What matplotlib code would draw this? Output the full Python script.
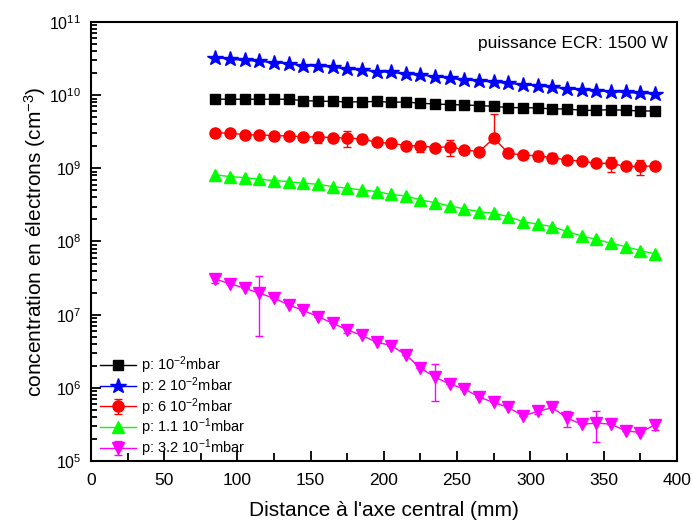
import numpy as np
import matplotlib
matplotlib.use('Agg')
import matplotlib.pyplot as plt
from matplotlib.ticker import MultipleLocator, LogLocator, NullFormatter

# police
matplotlib.rcParams['font.family'] = ['Liberation Sans', 'DejaVu Sans']
matplotlib.rcParams['mathtext.fontset'] = 'custom'
matplotlib.rcParams['mathtext.rm'] = 'Liberation Sans'
matplotlib.rcParams['mathtext.it'] = 'Liberation Sans:italic'
matplotlib.rcParams['axes.unicode_minus'] = False

# données (distance en mm, densité en cm^-3)
distance = list(range(85, 386, 10))

n_1e2 = [8.8e9, 8.8e9, 8.8e9, 8.8e9, 8.8e9, 8.8e9, 8.4e9, 8.3e9, 8.2e9, 8.1e9,
         8.1e9, 8.2e9, 8.0e9, 8.07e9, 7.74e9, 7.58e9, 7.43e9, 7.35e9, 7.2e9, 7.05e9,
         6.76e9, 6.76e9, 6.69e9, 6.48e9, 6.48e9, 6.21e9, 6.21e9, 6.34e9, 6.21e9, 6.08e9,
         6.08e9]

n_2e2 = [3.26e10, 3.09e10, 2.99e10, 2.90e10, 2.78e10, 2.70e10, 2.53e10, 2.48e10, 2.43e10, 2.26e10,
         2.21e10, 2.10e10, 2.05e10, 1.93e10, 1.89e10, 1.79e10, 1.70e10, 1.61e10, 1.56e10, 1.51e10,
         1.45e10, 1.39e10, 1.34e10, 1.28e10, 1.23e10, 1.18e10, 1.14e10, 1.12e10, 1.09e10, 1.06e10,
         1.04e10]

n_6e2 = [3.08e9, 3.01e9, 2.89e9, 2.86e9, 2.80e9, 2.77e9, 2.69e9, 2.69e9, 2.63e9, 2.60e9,
         2.52e9, 2.27e9, 2.20e9, 2.05e9, 2.02e9, 1.92e9, 1.98e9, 1.78e9, 1.69e9, 2.58e9,
         1.61e9, 1.52e9, 1.48e9, 1.40e9, 1.30e9, 1.25e9, 1.17e9, 1.17e9, 1.06e9, 1.06e9,
         1.08e9]
err_6e2_bas = [0, 0, 0, 0, 0, 0, 0, 0.46e9, 0, 0.64e9,
               0.33e9, 0, 0, 0, 0.34e9, 0, 0.49e9, 0, 0, 0,
               0, 0, 0.22e9, 0.21e9, 0, 0, 0, 0.27e9, 0, 0.24e9,
               0]
err_6e2_haut = [0, 0, 0, 0, 0, 0, 0, 0.46e9, 0, 0.64e9,
                0.33e9, 0, 0, 0, 0.34e9, 0, 0.49e9, 0, 0, 2.9e9,
                0, 0, 0.22e9, 0.21e9, 0, 0, 0, 0.27e9, 0, 0.24e9,
                0]

n_11e1 = [8.13e8, 7.71e8, 7.47e8, 7.09e8, 6.80e8, 6.59e8, 6.25e8, 6.06e8, 5.63e8, 5.34e8,
          5.07e8, 4.81e8, 4.39e8, 4.20e8, 3.70e8, 3.40e8, 3.06e8, 2.79e8, 2.56e8, 2.43e8,
          2.19e8, 1.87e8, 1.72e8, 1.60e8, 1.37e8, 1.19e8, 1.07e8, 9.46e7, 8.53e7, 7.52e7,
          6.78e7]

n_32e1 = [3.05e7, 2.64e7, 2.30e7, 1.96e7, 1.68e7, 1.36e7, 1.14e7, 9.43e6, 7.64e6, 6.20e6,
          5.19e6, 4.21e6, 3.78e6, 2.82e6, 1.86e6, 1.40e6, 1.12e6, 9.68e5, 7.46e5, 6.31e5,
          5.39e5, 4.14e5, 4.75e5, 5.39e5, 3.85e5, 3.19e5, 3.29e5, 3.19e5, 2.59e5, 2.45e5,
          3.13e5]
err_32e1 = [0.3e7, 0, 0, 1.45e7, 0, 0, 0, 0, 0, 0.6e6,
            0, 0, 0, 0, 0, 0.74e6, 0, 0, 0, 0,
            0, 0, 0.4e5, 0, 0.9e5, 0, 1.5e5, 0, 0, 0,
            0.5e5]

labels = [r'p: 10$^{\mathdefault{-2}}$mbar',
          r'p: 2 10$^{\mathdefault{-2}}$mbar',
          r'p: 6 10$^{\mathdefault{-2}}$mbar',
          r'p: 1.1 10$^{\mathdefault{-1}}$mbar',
          r'p: 3.2 10$^{\mathdefault{-1}}$mbar']

fig = plt.figure(figsize=(6.92, 5.26), dpi=100)
ax = fig.add_axes([0.1315, 0.1236, 0.8465, 0.8346])

kw = dict(linewidth=1.0, capsize=3, elinewidth=1.0, capthick=1.0)
ax.errorbar(distance, n_1e2, color='black', marker='s', markersize=7.5,
            label=labels[0], **kw)
ax.errorbar(distance, n_2e2, color='#0000FF', marker='*', markersize=11.5,
            label=labels[1], **kw)
ax.errorbar(distance, n_6e2, yerr=[err_6e2_bas, err_6e2_haut], color='#FF0000',
            marker='o', markersize=8, label=labels[2], **kw)
ax.errorbar(distance, n_11e1, color='#00FF00', marker='^', markersize=9,
            label=labels[3], **kw)
ax.errorbar(distance, n_32e1, yerr=err_32e1, color='#FF00FF', marker='v',
            markersize=9, label=labels[4], **kw)

ax.set_yscale('log')
ax.set_xlim(0, 400)
ax.set_ylim(1e5, 1e11)
ax.xaxis.set_major_locator(MultipleLocator(50))
ax.xaxis.set_minor_locator(MultipleLocator(25))
ax.yaxis.set_major_locator(LogLocator(base=10, numticks=20))
ax.yaxis.set_minor_locator(LogLocator(base=10, subs=np.arange(2, 10), numticks=20))
ax.yaxis.set_minor_formatter(NullFormatter())

ax.tick_params(which='both', direction='in', top=False, right=False, width=1.3)
ax.tick_params(which='major', length=7)
ax.tick_params(which='minor', length=4)
ax.tick_params(axis='x', which='minor', length=6)
ax.tick_params(axis='x', which='major', labelsize=12.5, pad=9)
ax.tick_params(axis='y', which='major', labelsize=11.5, pad=7)
for s in ax.spines.values():
    s.set_linewidth(1.5)

ax.set_xlabel("Distance à l'axe central (mm)", fontsize=15, labelpad=9)
ax.set_ylabel(r'concentration en électrons (cm$^{\mathdefault{-3}}$)', fontsize=15,
              labelpad=1)

ax.text(0.985, 0.95, 'puissance ECR: 1500 W', transform=ax.transAxes,
        ha='right', va='center', fontsize=12.5)

leg = ax.legend(loc='lower left', bbox_to_anchor=(0.0, -0.016), frameon=False,
                fontsize=10.5, handlelength=2.5, labelspacing=-0.05,
                handletextpad=0.3, borderaxespad=0.3, borderpad=0.3)

plt.savefig('out.png', dpi=100)
